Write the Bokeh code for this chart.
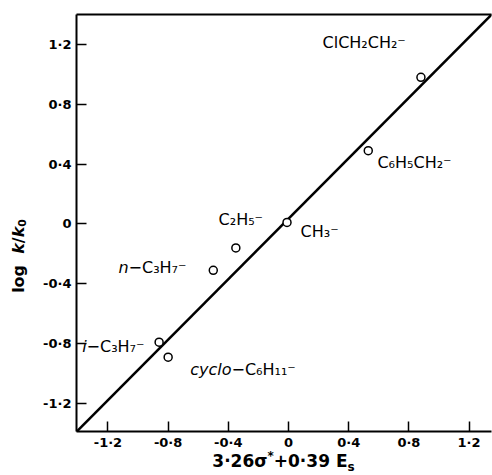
from bokeh.plotting import figure
from bokeh.models import Range1d, FixedTicker, LinearAxis, Label, ColumnDataSource, Div
from bokeh.layouts import row, column
from bokeh.embed import file_html
from bokeh.resources import INLINE

# ---- data ----
groups = ["ClCH2CH2-", "C6H5CH2-", "CH3-", "C2H5-", "n-C3H7-", "i-C3H7-", "cyclo-C6H11-"]
sigma_es = [0.88, 0.53, -0.01, -0.35, -0.50, -0.86, -0.80]      # 3.26 sigma* + 0.39 Es
log_k_ratio = [0.98, 0.49, 0.01, -0.16, -0.31, -0.79, -0.89]     # log k/k0
fit_x = [-1.42, 1.36]
fit_y = [-1.40, 1.41]
tick_values = [-1.2, -0.8, -0.4, 0.0, 0.4, 0.8, 1.2]
tick_labels = ["-1·2", "-0·8", "-0·4", "0", "0·4", "0·8", "1·2"]

# label texts (italic prefix, plain part) and anchors in data units
plain_labels = ["ClCH₂CH₂⁻", "C₆H₅CH₂⁻", "CH₃⁻", "C₂H₅⁻"]
plain_x = [0.226, 0.591, 0.08, -0.465]
plain_y = [1.213, 0.413, -0.053, 0.027]
italic_prefix = ["n", "i", "cyclo"]
italic_rest = [" −C₃H₇⁻", "−C₃H₇⁻", " −C₆H₁₁⁻"]
italic_x = [-1.063, -1.342, -0.379]
italic_y = [-0.293, -0.82, -0.973]

FONT = "DejaVu Sans"
X0, X1, Y0, Y1 = -1.409, 1.349, -1.387, 1.40

p = figure(width=464, height=452, output_backend="svg", toolbar_location=None,
           x_range=Range1d(X0, X1), y_range=Range1d(Y0, Y1),
           min_border_left=48, min_border_right=1, min_border_top=14, min_border_bottom=20)
p.outline_line_color = None
p.xgrid.visible = False
p.ygrid.visible = False
p.background_fill_color = "white"
p.border_fill_color = "white"

for ax in (p.xaxis[0], p.yaxis[0]):
    ax.ticker = FixedTicker(ticks=tick_values)
    ax.major_label_overrides = {v: s for v, s in zip(tick_values, tick_labels)}
    ax.major_tick_in = 10
    ax.major_tick_out = 0
    ax.minor_tick_line_color = None
    ax.axis_line_width = 2
    ax.axis_line_color = "black"
    ax.major_tick_line_width = 1.5
    ax.major_tick_line_color = "black"
    ax.major_label_text_font = FONT
    ax.major_label_text_font_size = "13px"
    ax.major_label_text_font_style = "bold"
    ax.major_label_text_color = "black"
    ax.major_label_standoff = 5

p.xaxis[0].major_label_standoff = 3

top = LinearAxis(ticker=FixedTicker(ticks=[]), major_label_text_font_size="0px",
                 major_tick_in=0, major_tick_out=0, minor_tick_line_color=None,
                 axis_line_width=2, axis_line_color="black")
p.add_layout(top, "above")

src = ColumnDataSource(dict(x=sigma_es, y=log_k_ratio, name=groups))
p.line(fit_x, fit_y, line_color="black", line_width=2.5)
p.scatter("x", "y", source=src, marker="circle", size=8, fill_color="white",
          line_color="black", line_width=1.5)

for t, x, y in zip(plain_labels, plain_x, plain_y):
    p.add_layout(Label(x=x, y=y, text=t, text_font=FONT, text_font_size="16px",
                       text_align="left", text_baseline="middle", text_color="black"))
for pre, rest, x, y in zip(italic_prefix, italic_rest, italic_x, italic_y):
    p.add_layout(Label(x=x, y=y, text=pre, text_font=FONT, text_font_size="16px",
                       text_font_style="italic", text_align="right",
                       text_baseline="middle", text_color="black"))
    p.add_layout(Label(x=x, y=y, text=rest, text_font=FONT, text_font_size="16px",
                       text_align="left", text_baseline="middle", text_color="black"))

# axis titles as HTML (allow italics / sub- and superscripts)
ytitle = Div(width=28, height=475, margin=0,
             text=("<div style=\"font-family:'DejaVu Sans'; font-size:16px; font-weight:bold; "
                   "line-height:18px; white-space:nowrap; writing-mode:vertical-rl; "
                   "transform:rotate(180deg); margin-top:219px; margin-left:10px;\">"
                   "log&nbsp;&nbsp;<i>k</i>/<i>k</i><sub style='font-size:11px; line-height:0'>0</sub></div>"))
xtitle = Div(width=464, height=23, margin=0,
             text=("<div style=\"font-family:'DejaVu Sans'; font-size:17px; font-weight:bold; "
                   "line-height:18px; white-space:nowrap; text-align:center; "
                   "width:417px; margin-left:47px; margin-top:0px;\">"
                   "3·26σ<sup style='font-size:12px; line-height:0'>*</sup>+0·39 "
                   "E<sub style='font-size:12px; line-height:0'>s</sub></div>"))

layout = row(ytitle, column(p, xtitle, spacing=0), spacing=0)
open("out.html", "w").write(file_html(layout, INLINE))
